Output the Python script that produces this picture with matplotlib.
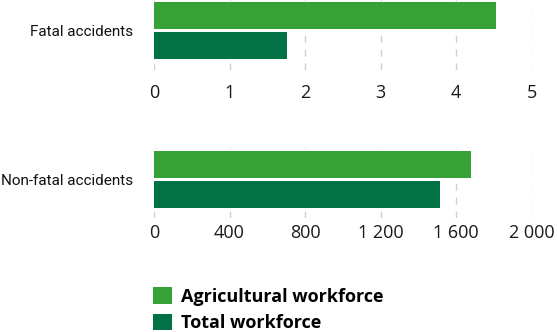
import matplotlib
matplotlib.use("Agg")
import matplotlib.pyplot as plt
from matplotlib.patches import Patch

categories = ["Fatal accidents", "Non-fatal accidents"]
series_names = ["Agricultural workforce", "Total workforce"]
fatal_values = [4.53, 1.76]
nonfatal_values = [1679, 1515]
fatal_ticks = [0, 1, 2, 3, 4, 5]
fatal_tick_labels = ["0", "1", "2", "3", "4", "5"]
nonfatal_ticks = [0, 400, 800, 1200, 1600, 2000]
nonfatal_tick_labels = ["0", "400", "800", "1 200", "1 600", "2 000"]
colors = ["#35a136", "#017245"]

W, H = 557, 332
fig = plt.figure(figsize=(W / 100, H / 100), dpi=100)

label_font = ["Roboto", "DejaVu Sans"]
tick_font = ["Open Sans", "DejaVu Sans"]

def make_ax(top_px, bottom_px, values, ticks, ticklabels, xmax, cat, xpad):
    left = 154 / W
    right = 531.7 / W
    ax = fig.add_axes([left, 1 - bottom_px / H, right - left, (bottom_px - top_px) / H])
    ypos = [0, 1]
    ax.barh(ypos, values, height=0.9, color=colors, zorder=3)
    ax.set_xlim(0, xmax)
    ylo = (top_px - (top_px + 16.5)) / 30
    ax.set_ylim((bottom_px - (top_px + 16.5)) / 30, ylo)
    ax.set_xticks(ticks)
    ax.set_xticklabels(ticklabels, fontsize=13, family=tick_font)
    ax.set_yticks([0.5])
    ax.set_yticklabels([cat], fontsize=11, family=label_font)
    ax.tick_params(axis="x", length=0, pad=xpad, colors="#1a1a1a")
    ax.tick_params(axis="y", length=0, pad=15, colors="#111111")
    for s in ax.spines.values():
        s.set_visible(False)
    for t in ticks:
        ax.axvline(t, color="#cfcfcf", lw=1, linestyle=(0, (5, 5)), zorder=1)
    return ax

make_ax(-1, 70, fatal_values, fatal_ticks, fatal_tick_labels, 5, categories[0], 10)
make_ax(148, 218, nonfatal_values, nonfatal_ticks, nonfatal_tick_labels, 2000, categories[1], 4)

handles = [Patch(facecolor=c, edgecolor="none") for c in colors]
fig.legend(handles, series_names, loc="upper left",
           bbox_to_anchor=(153 / W, 1 - 287 / H), frameon=False,
           prop={"family": ["Open Sans", "DejaVu Sans"], "weight": "bold", "size": 13},
           handlelength=1.05, handleheight=1.05, handletextpad=0.5,
           labelspacing=0.45, borderpad=0, borderaxespad=0)

fig.savefig("out.png", dpi=100)
